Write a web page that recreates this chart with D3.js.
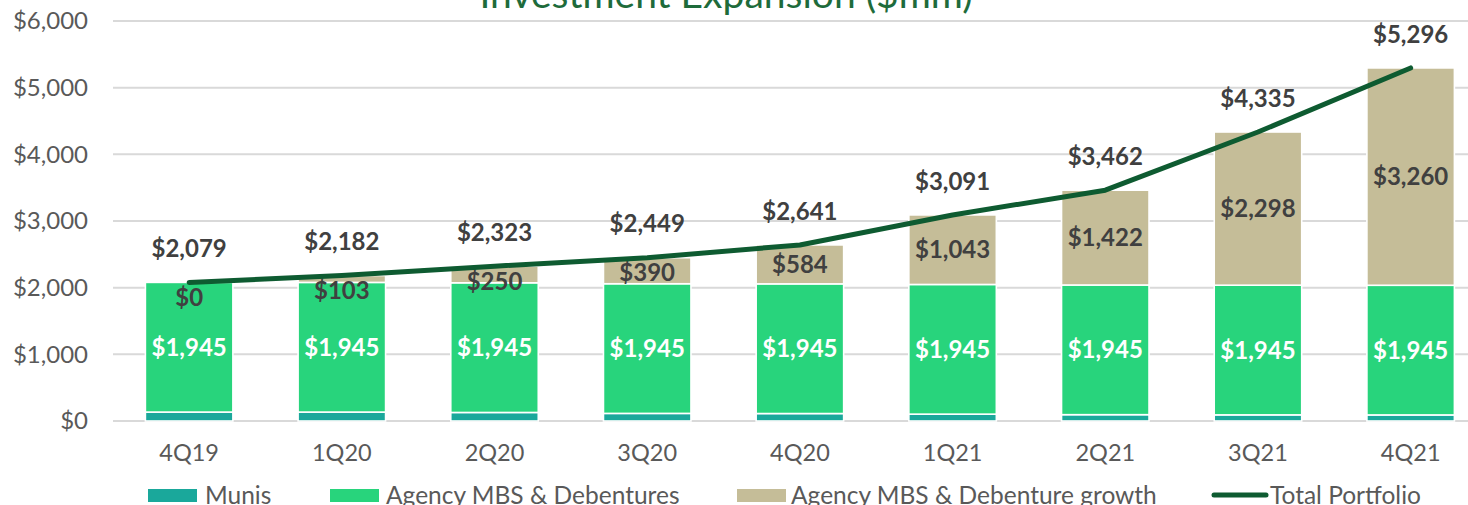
<!DOCTYPE html>
<html>
<head>
<meta charset="utf-8">
<script src="https://cdn.jsdelivr.net/npm/d3@7"></script>
<style>
  html, body { margin: 0; padding: 0; background: #fff; }
  svg { display: block; }
  text { font-family: Lato, "Open Sans", sans-serif; }
</style>
</head>
<body>
<svg id="chart" width="1468" height="505"></svg>
<script>
const categories = ["4Q19", "1Q20", "2Q20", "3Q20", "4Q20", "1Q21", "2Q21", "3Q21", "4Q21"];
const munis = [134, 134, 128, 114, 112, 103, 95, 92, 91];
const agency = [1945, 1945, 1945, 1945, 1945, 1945, 1945, 1945, 1945];
const growth = [0, 103, 250, 390, 584, 1043, 1422, 2298, 3260];
const totalPortfolio = [2079, 2182, 2323, 2449, 2641, 3091, 3462, 4335, 5296];
const yTicks = [0, 1000, 2000, 3000, 4000, 5000, 6000];
const seriesNames = ["Munis", "Agency MBS & Debentures", "Agency MBS & Debenture growth", "Total Portfolio"];
const colors = { munis: "#1aa89b", agency: "#28d47c", growth: "#c5bd98", line: "#0e5b31" };

const svg = d3.select("#chart");

const x = d3.scaleBand().domain(categories).range([112.8, 1487]).paddingInner(0.427).paddingOuter(0.2135);
const y = d3.scaleLinear().domain([0, 6000]).range([421, 21]);
const fmt = v => "$" + d3.format(",")(v);

// Title (cut off at top)
svg.append("text")
  .attr("x", 726).attr("y", 8)
  .attr("text-anchor", "middle")
  .attr("fill", "#1e6b3b")
  .style("font-size", "39px")
  .text("Investment Expansion ($mm)");

// Gridlines
svg.append("g").selectAll("line").data(yTicks).join("line")
  .attr("x1", 113).attr("x2", 1468)
  .attr("y1", d => y(d)).attr("y2", d => y(d))
  .attr("stroke", "#d9d9d9").attr("stroke-width", 2);

// Y axis
const yAxis = d3.axisLeft(y).tickValues(yTicks).tickFormat(fmt).tickSize(0).tickPadding(0);
const yg = svg.append("g").attr("transform", "translate(88,0)").call(yAxis);
yg.select(".domain").remove();
yg.selectAll("text").attr("fill", "#595959").style("font-size", "24px").style("font-family", "Lato, sans-serif");

// X axis
const xAxis = d3.axisBottom(x).tickSize(0).tickPadding(0);
const xg = svg.append("g").attr("transform", "translate(0,444)").call(xAxis);
xg.select(".domain").remove();
xg.selectAll("text").attr("fill", "#595959").style("font-size", "23.5px").style("font-family", "Lato, sans-serif").attr("dy", "0.71em");

// Stacked bars
const rows = categories.map((c, i) => ({ cat: c, munis: munis[i], agency: agency[i], growth: growth[i] }));
const stack = d3.stack().keys(["munis", "agency", "growth"]);
const layers = stack(rows);

const bars = svg.append("g");
layers.forEach(layer => {
  bars.append("g").selectAll("rect").data(layer).join("rect")
    .attr("x", d => x(d.data.cat))
    .attr("width", x.bandwidth())
    .attr("y", d => y(d[1]))
    .attr("height", d => Math.max(0, y(d[0]) - y(d[1])))
    .attr("fill", colors[layer.key])
    .attr("stroke", "#fff").attr("stroke-width", 1.6);
});

// Labels: agency (white) and growth (dark)
const agencyLayer = layers[1];
svg.append("g").selectAll("text").data(agencyLayer).join("text")
  .attr("x", d => x(d.data.cat) + x.bandwidth() / 2)
  .attr("y", d => (y(d[0]) + y(d[1])) / 2)
  .attr("dy", "0.36em")
  .attr("text-anchor", "middle")
  .attr("fill", "#ffffff")
  .style("font-size", "24px").style("font-weight", "bold")
  .text(d => fmt(d.data.agency));

const growthLayer = layers[2];
svg.append("g").selectAll("text").data(growthLayer).join("text")
  .attr("x", d => x(d.data.cat) + x.bandwidth() / 2)
  .attr("y", d => {
    const h = y(d[0]) - y(d[1]);
    return (y(d[0]) + y(d[1])) / 2 + Math.max(0, (30 - h) / 2);
  })
  .attr("dy", "0.36em")
  .attr("text-anchor", "middle")
  .attr("fill", "#404040")
  .style("font-size", "24px").style("font-weight", "bold")
  .text(d => fmt(d.data.growth));

// Total line
const line = d3.line().x((d, i) => x(categories[i]) + x.bandwidth() / 2).y(d => y(d));
svg.append("path").datum(totalPortfolio)
  .attr("d", line)
  .attr("fill", "none")
  .attr("stroke", colors.line)
  .attr("stroke-width", 5)
  .attr("stroke-linecap", "round")
  .attr("stroke-linejoin", "round");

svg.append("g").selectAll("text").data(totalPortfolio).join("text")
  .attr("x", (d, i) => x(categories[i]) + x.bandwidth() / 2)
  .attr("y", d => y(d) - 34)
  .attr("dy", "0.36em")
  .attr("text-anchor", "middle")
  .attr("fill", "#404040")
  .style("font-size", "24px").style("font-weight", "bold")
  .text(d => fmt(d));

// Legend
const legend = svg.append("g");
const legendItems = [
  { name: seriesNames[0], type: "rect", color: colors.munis, sx: 148, tx: 205 },
  { name: seriesNames[1], type: "rect", color: colors.agency, sx: 330, tx: 386 },
  { name: seriesNames[2], type: "rect", color: colors.growth, sx: 737, tx: 791 },
  { name: seriesNames[3], type: "line", color: colors.line, sx: 1212, tx: 1270 }
];
legendItems.forEach(it => {
  if (it.type === "rect") {
    legend.append("rect").attr("x", it.sx).attr("y", 489).attr("width", 49).attr("height", 13).attr("fill", it.color);
  } else {
    legend.append("line").attr("x1", it.sx + 2).attr("x2", it.sx + 54).attr("y1", 495).attr("y2", 495)
      .attr("stroke", it.color).attr("stroke-width", 5).attr("stroke-linecap", "round");
  }
  legend.append("text").attr("x", it.tx).attr("y", 495).attr("dy", "0.36em")
    .attr("fill", "#595959").style("font-size", "24.5px").text(it.name);
});
</script>
</body>
</html>
